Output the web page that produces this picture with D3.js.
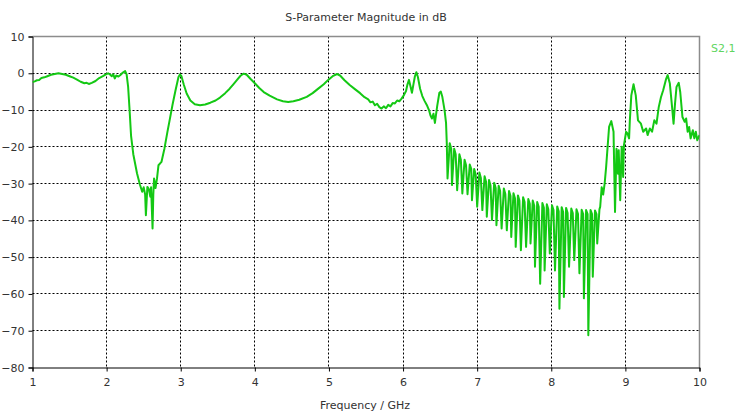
<!DOCTYPE html>
<html>
<head>
<meta charset="utf-8">
<script src="https://cdn.jsdelivr.net/npm/d3@7"></script>
<style>
  body { margin: 0; background: white; }
  svg { display: block; font-family: "DejaVu Sans", sans-serif; }
</style>
</head>
<body>
<svg width="737" height="412"></svg>
<script>
let title = "S-Parameter Magnitude in dB";
let xLabel = "Frequency / GHz";
let seriesName = "S2,1";
let xTicks = [1, 2, 3, 4, 5, 6, 7, 8, 9, 10];
let yTicks = [10, 0, -10, -20, -30, -40, -50, -60, -70, -80];

// [GHz, dB]
let lowBand = [
    [1.00,-2.4],[1.03,-2.2],[1.06,-1.9],[1.09,-1.8],[1.12,-1.3],[1.16,-1.1],[1.20,-0.8],[1.25,-0.4],
    [1.30,-0.2],[1.35,0.0],[1.40,-0.2],[1.45,-0.4],[1.50,-0.8],[1.55,-1.2],[1.60,-1.7],[1.65,-2.3],
    [1.70,-2.7],[1.73,-2.6],[1.76,-2.9],[1.80,-2.6],[1.85,-2.1],[1.90,-1.3],[1.95,-0.8],[1.99,-0.3],
    [2.02,0.0],[2.05,-0.4],[2.07,-0.8],[2.09,-0.3],[2.11,-1.4],[2.13,-0.6],[2.16,-0.9],[2.19,-0.4],
    [2.22,0.2],[2.25,0.6],[2.27,-0.3]
];
let firstStop = [
    [2.29,-3.6],[2.31,-10.0],[2.33,-17.0],[2.36,-22.0],[2.41,-27.2],[2.45,-30.3],[2.48,-32.2],[2.50,-31.0],
    [2.52,-33.0],[2.53,-38.6],[2.55,-30.9],[2.57,-31.5],[2.59,-33.6],[2.60,-31.0],[2.62,-42.2],[2.63,-33.0],
    [2.64,-28.6],[2.66,-31.2],[2.68,-28.6],[2.70,-25.0],[2.74,-24.1],[2.78,-20.5],[2.82,-16.0],[2.85,-12.8],
    [2.89,-8.5],[2.93,-4.6],[2.97,-1.0],[2.99,-0.3]
];
let midBand = [
    [3.01,-0.8],[3.04,-3.0],[3.08,-5.5],[3.13,-7.4],[3.19,-8.4],[3.26,-8.7],[3.33,-8.5],[3.40,-8.0],
    [3.47,-7.4],[3.53,-6.6],[3.60,-5.4],[3.66,-4.2],[3.71,-3.0],[3.76,-1.8],[3.81,-0.6],[3.85,-0.1],
    [3.89,-0.4],[3.94,-1.5],[4.00,-2.7],[4.06,-4.0],[4.12,-5.1],[4.20,-6.1],[4.30,-7.1],[4.38,-7.6],
    [4.45,-7.8],[4.52,-7.6],[4.60,-7.2],[4.70,-6.4],[4.78,-5.4],[4.86,-4.1],[4.93,-3.0],[4.99,-1.8],
    [5.05,-0.8],[5.11,-0.2],[5.15,-0.6],[5.21,-1.9],[5.28,-3.2],[5.35,-4.3],[5.42,-5.4],[5.48,-6.5],
    [5.53,-7.1],[5.56,-7.9],[5.59,-7.7],[5.62,-8.7],[5.65,-8.3],[5.68,-9.2],[5.71,-9.6],[5.74,-9.0],
    [5.77,-9.5],[5.80,-8.6],[5.83,-9.0],[5.86,-8.1],[5.89,-8.2],[5.92,-7.4],[5.95,-7.6],[5.98,-6.9],
    [6.01,-6.0],[6.04,-4.8],[6.06,-3.0],[6.08,-1.8],[6.10,-3.5],[6.12,-5.3],[6.14,-3.0],[6.16,-0.8],
    [6.18,0.3],[6.20,-1.0],[6.23,-4.2],[6.26,-6.2],[6.29,-7.5],[6.32,-8.6],[6.35,-10.0],[6.37,-11.5],
    [6.39,-12.3],[6.41,-11.0],[6.43,-13.5],[6.46,-9.0],[6.49,-5.3],[6.51,-5.0],[6.53,-6.4],[6.56,-10.0],
    [6.58,-13.5],[6.59,-19.0]
];
let comb = [
    [6.60,-28.6],[6.63,-19.0],[6.65,-20.5],[6.66,-30.4],[6.69,-20.5],[6.71,-22.0],[6.73,-31.8],[6.76,-22.0],
    [6.78,-23.5],[6.80,-32.7],[6.83,-23.5],[6.85,-25.0],[6.87,-32.9],[6.90,-24.8],[6.92,-26.0],[6.93,-34.5],
    [6.96,-26.0],[6.98,-27.5],[7.00,-36.3],[7.03,-27.0],[7.05,-28.5],[7.07,-37.2],[7.10,-28.0],[7.12,-29.5],
    [7.13,-39.0],[7.16,-29.0],[7.18,-30.5],[7.20,-39.9],[7.23,-29.8],[7.25,-31.2],[7.26,-41.3],[7.29,-30.6],
    [7.31,-32.0],[7.33,-42.2],[7.36,-31.3],[7.38,-32.8],[7.40,-42.7],[7.43,-32.0],[7.45,-33.4],[7.46,-44.5],
    [7.49,-32.6],[7.51,-34.0],[7.52,-47.2],[7.55,-33.2],[7.57,-34.6],[7.59,-48.1],[7.62,-33.7],[7.64,-35.0],
    [7.66,-47.2],[7.69,-34.2],[7.71,-35.5],[7.72,-46.3],[7.75,-34.6],[7.77,-36.0],[7.78,-52.6],[7.81,-35.0],
    [7.83,-36.3],[7.85,-57.2],[7.88,-35.3],[7.90,-36.6],[7.91,-53.6],[7.94,-35.6],[7.96,-37.0],[7.98,-49.0],
    [8.01,-35.9],[8.03,-37.2],[8.05,-53.6],[8.08,-36.2],[8.10,-37.5],[8.11,-64.0],[8.14,-36.4],[8.16,-37.7],
    [8.17,-60.8],[8.20,-36.6],[8.22,-38.0],[8.24,-52.6],[8.27,-36.8],[8.29,-38.0],[8.31,-50.8],[8.34,-37.0],
    [8.36,-38.2],[8.38,-54.4],[8.41,-37.1],[8.43,-38.3],[8.44,-61.2],[8.47,-37.2],[8.49,-38.3],[8.50,-71.2],
    [8.53,-37.2],[8.55,-38.3],[8.56,-55.3],[8.59,-37.3],[8.61,-38.3],[8.62,-46.3],[8.65,-37.0],[8.66,-36.3]
];
let highBand = [
    [8.68,-31.0],[8.70,-33.0],[8.72,-30.0],[8.74,-25.5],[8.76,-20.0],[8.78,-14.6],[8.81,-13.0],[8.84,-15.9],
    [8.86,-37.7],[8.88,-20.5],[8.90,-27.3],[8.91,-20.9],[8.93,-34.5],[8.95,-20.0],[8.97,-28.2],[8.98,-19.6],
    [9.01,-15.9],[9.03,-16.4],[9.05,-17.7],[9.06,-12.8],[9.08,-6.0],[9.11,-3.0],[9.14,-6.0],[9.17,-12.8],
    [9.21,-13.7],[9.24,-15.9],[9.28,-15.0],[9.30,-16.8],[9.33,-15.0],[9.36,-15.9],[9.39,-12.8],[9.42,-13.7],
    [9.45,-9.2],[9.48,-6.5],[9.51,-4.6],[9.55,-1.5],[9.57,-0.5],[9.60,-2.8],[9.63,-9.2],[9.65,-13.7],
    [9.67,-8.2],[9.69,-3.7],[9.72,-2.6],[9.74,-5.1],[9.77,-11.9],[9.80,-13.2],[9.82,-12.3],[9.84,-15.9],
    [9.86,-14.6],[9.88,-17.7],[9.91,-15.5],[9.93,-17.7],[9.95,-15.9],[9.97,-18.2],[10.00,-16.8]
];

let svg = d3.select("svg");
let x = d3.scaleLinear().domain([1, 10]).range([32.5, 699.5]);
let y = d3.scaleLinear().domain([-80, 10]).range([367.5, 36.5]);
let crisp = function(v) {return Math.floor(v) + 0.5};

// grid
svg.append("g").selectAll("line").data(xTicks.slice(1, -1)).enter().append("line")
    .attr("x1", function(d) {return crisp(x(d))}).attr("x2", function(d) {return crisp(x(d))})
    .attr("y1", y(10)).attr("y2", y(-80))
    .attr("stroke", "#000").attr("stroke-dasharray", "2,2");
svg.append("g").selectAll("line").data(yTicks.slice(1, -1)).enter().append("line")
    .attr("x1", x(1)).attr("x2", x(10))
    .attr("y1", function(d) {return crisp(y(d))}).attr("y2", function(d) {return crisp(y(d))})
    .attr("stroke", "#000").attr("stroke-dasharray", "2,2");

// frame: gray top and right, black left and bottom
svg.append("path").attr("d", "M" + x(1) + "," + y(10) + "H" + x(10) + "V" + y(-80))
    .attr("fill", "none").attr("stroke", "#8c8c8c").attr("stroke-width", 1.5);

let yAxis = svg.append("g").attr("transform", "translate(" + x(1) + ",0)")
    .call(d3.axisLeft(y).tickValues(yTicks).tickSize(4).tickPadding(4));
let xAxis = svg.append("g").attr("transform", "translate(0," + y(-80) + ")")
    .call(d3.axisBottom(x).tickValues(xTicks).tickSize(4).tickPadding(7).tickFormat(d3.format("d")));
for (let a of [xAxis, yAxis]) {
    a.select(".domain").attr("stroke", "#000");
    a.selectAll("text").attr("fill", "#333").style("font-size", "11px").style("font-family", "DejaVu Sans");
}

// curve
let points = lowBand.concat(firstStop, midBand, comb, highBand);
svg.append("clipPath").attr("id", "plot").append("rect")
    .attr("x", x(1)).attr("y", y(10)).attr("width", x(10) - x(1)).attr("height", y(-80) - y(10));
svg.append("path").datum(points)
    .attr("clip-path", "url(#plot)")
    .attr("fill", "none").attr("stroke", "#14c814").attr("stroke-width", 2).attr("stroke-linejoin", "round")
    .attr("d", d3.line().x(function(d) {return x(d[0])}).y(function(d) {return y(d[1])}));

// texts
svg.append("text").attr("x", 366).attr("y", 21).attr("text-anchor", "middle")
    .attr("fill", "#333").style("font-size", "11px").text(title);
svg.append("text").attr("x", 365).attr("y", 409).attr("text-anchor", "middle")
    .attr("fill", "#333").style("font-size", "11px").text(xLabel);
svg.append("text").attr("x", 711).attr("y", 52)
    .attr("fill", "#5fd55f").style("font-size", "11px").text(seriesName);
</script>
</body>
</html>
